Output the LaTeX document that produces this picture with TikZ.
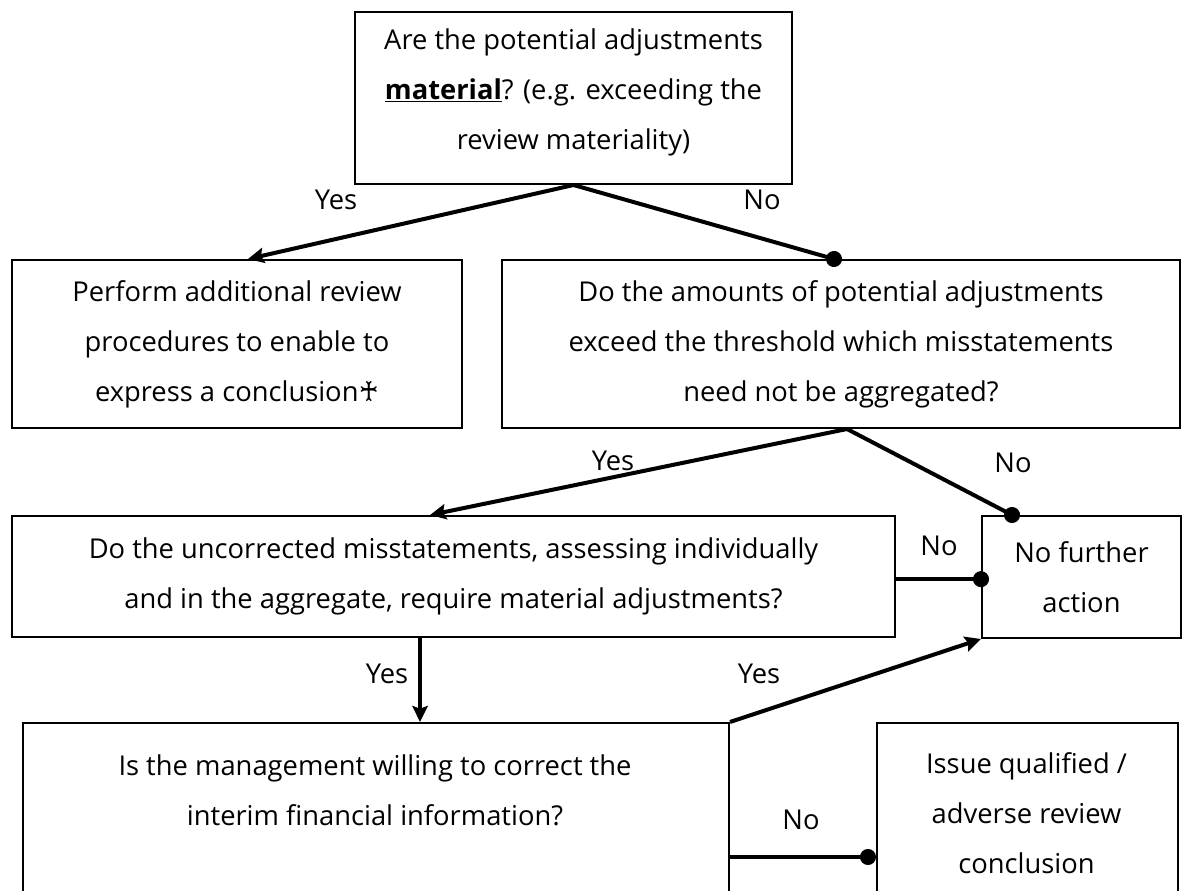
\documentclass[tikz,border=0pt]{standalone}
\usepackage{fontspec}
\setmainfont{Open Sans}
\newfontfamily\symfont{DejaVu Sans}
\usetikzlibrary{arrows.meta,calc}

\tikzset{
  box/.style={draw, line width=1.5pt, rectangle, inner sep=0pt, align=center,
              font=\flowfont},
  txt/.style={inner sep=0pt, align=center, font=\flowfont},
  lbl/.style={inner sep=0pt, font=\flowfont},
  conn/.style={line width=3pt},
  arrowto/.style={conn, -{Stealth[length=12pt, width=11.5pt, inset=2pt]}},
  dotto/.style={conn, -{Circle[length=12pt, width=12pt]}},
  dotmid/.style={dotto, shorten >=-6pt},
}
\newcommand{\flowfont}{\fontsize{20.5pt}{37.5pt}\selectfont}

\begin{document}
\begin{tikzpicture}[x=0.75pt, y=-0.75pt]
  \useasboundingbox (0,0) rectangle (1186,891);
  \clip (0,0) rectangle (1186,891);

  % decision and action boxes
  \node[box, minimum width=327.75pt, minimum height=129pt] (A) at (573.5,98)
    {Are the potential adjustments\\
     \underline{\textbf{material}}? (e.g. exceeding the\\
     review materiality)\rule[-14pt]{0pt}{14pt}};
  \node[box, minimum width=337.5pt, minimum height=126pt] (B) at (237,344)
    {Perform additional review\\
     procedures to enable to\\
     express a conclusion{\symfont ♰}};
  \node[box, minimum width=508.5pt, minimum height=126pt] (C) at (841,344)
    {Do the amounts of potential adjustments\\
     exceed the threshold which misstatements\\
     need not be aggregated?};
  \node[box, minimum width=662.25pt, minimum height=90.75pt] (D) at (453.5,576.5)
    {Do the uncorrected misstatements, assessing individually\\
     and in the aggregate, require material adjustments?};
  \node[box, minimum width=149.25pt, minimum height=91.5pt] (N) at (1081.5,577)
    {No further\\ action};

  % boxes running past the lower edge
  \node[box, minimum width=529.5pt, minimum height=165pt, anchor=north west] (E) at (22,722) {};
  \node[txt] (Et) at (375,790)
    {Is the management willing to correct the\\
     interim financial information?};
  \node[box, minimum width=225.75pt, minimum height=165pt, anchor=north west] (F) at (876,722) {};
  \node[txt] (Ft) at (1026.5,813)
    {Issue qualified /\\ adverse review\\ conclusion};

  % connectors
  \draw[arrowto] (A.south) -- ([xshift=8.25pt]B.north);
  \draw[dotmid]  (A.south) -- ([xshift=-5.25pt]C.north);
  \draw[arrowto] ([xshift=4.5pt]C.south) -- ([xshift=-17.6pt]D.north);
  \draw[dotmid]  ([xshift=4.5pt]C.south) -- ([xshift=-52.1pt]N.north);
  \draw[dotmid]  ([yshift=-2pt]D.east) -- ([yshift=-2pt]D.east -| N.west);
  \draw[arrowto] ([xshift=-25.1pt]D.south) -- ([xshift=-25.1pt]D.south |- E.north);
  \draw[arrowto] (E.north east) -- (N.south west);
  \draw[dotto]   ([yshift=-101.25pt]E.north east) -- ([yshift=-101.25pt]E.north east -| F.west);

  % branch labels
  \node[lbl] (l1) at (336,200) {Yes};
  \node[lbl] (l2) at (762,200) {No};
  \node[lbl] (l3) at (613,461) {Yes};
  \node[lbl] (l4) at (1013,463) {No};
  \node[lbl] (l5) at (939,546) {No};
  \node[lbl] (l6) at (387,674) {Yes};
  \node[lbl] (l7) at (759,674) {Yes};
  \node[lbl] (l8) at (801,820) {No};
\end{tikzpicture}
\end{document}
